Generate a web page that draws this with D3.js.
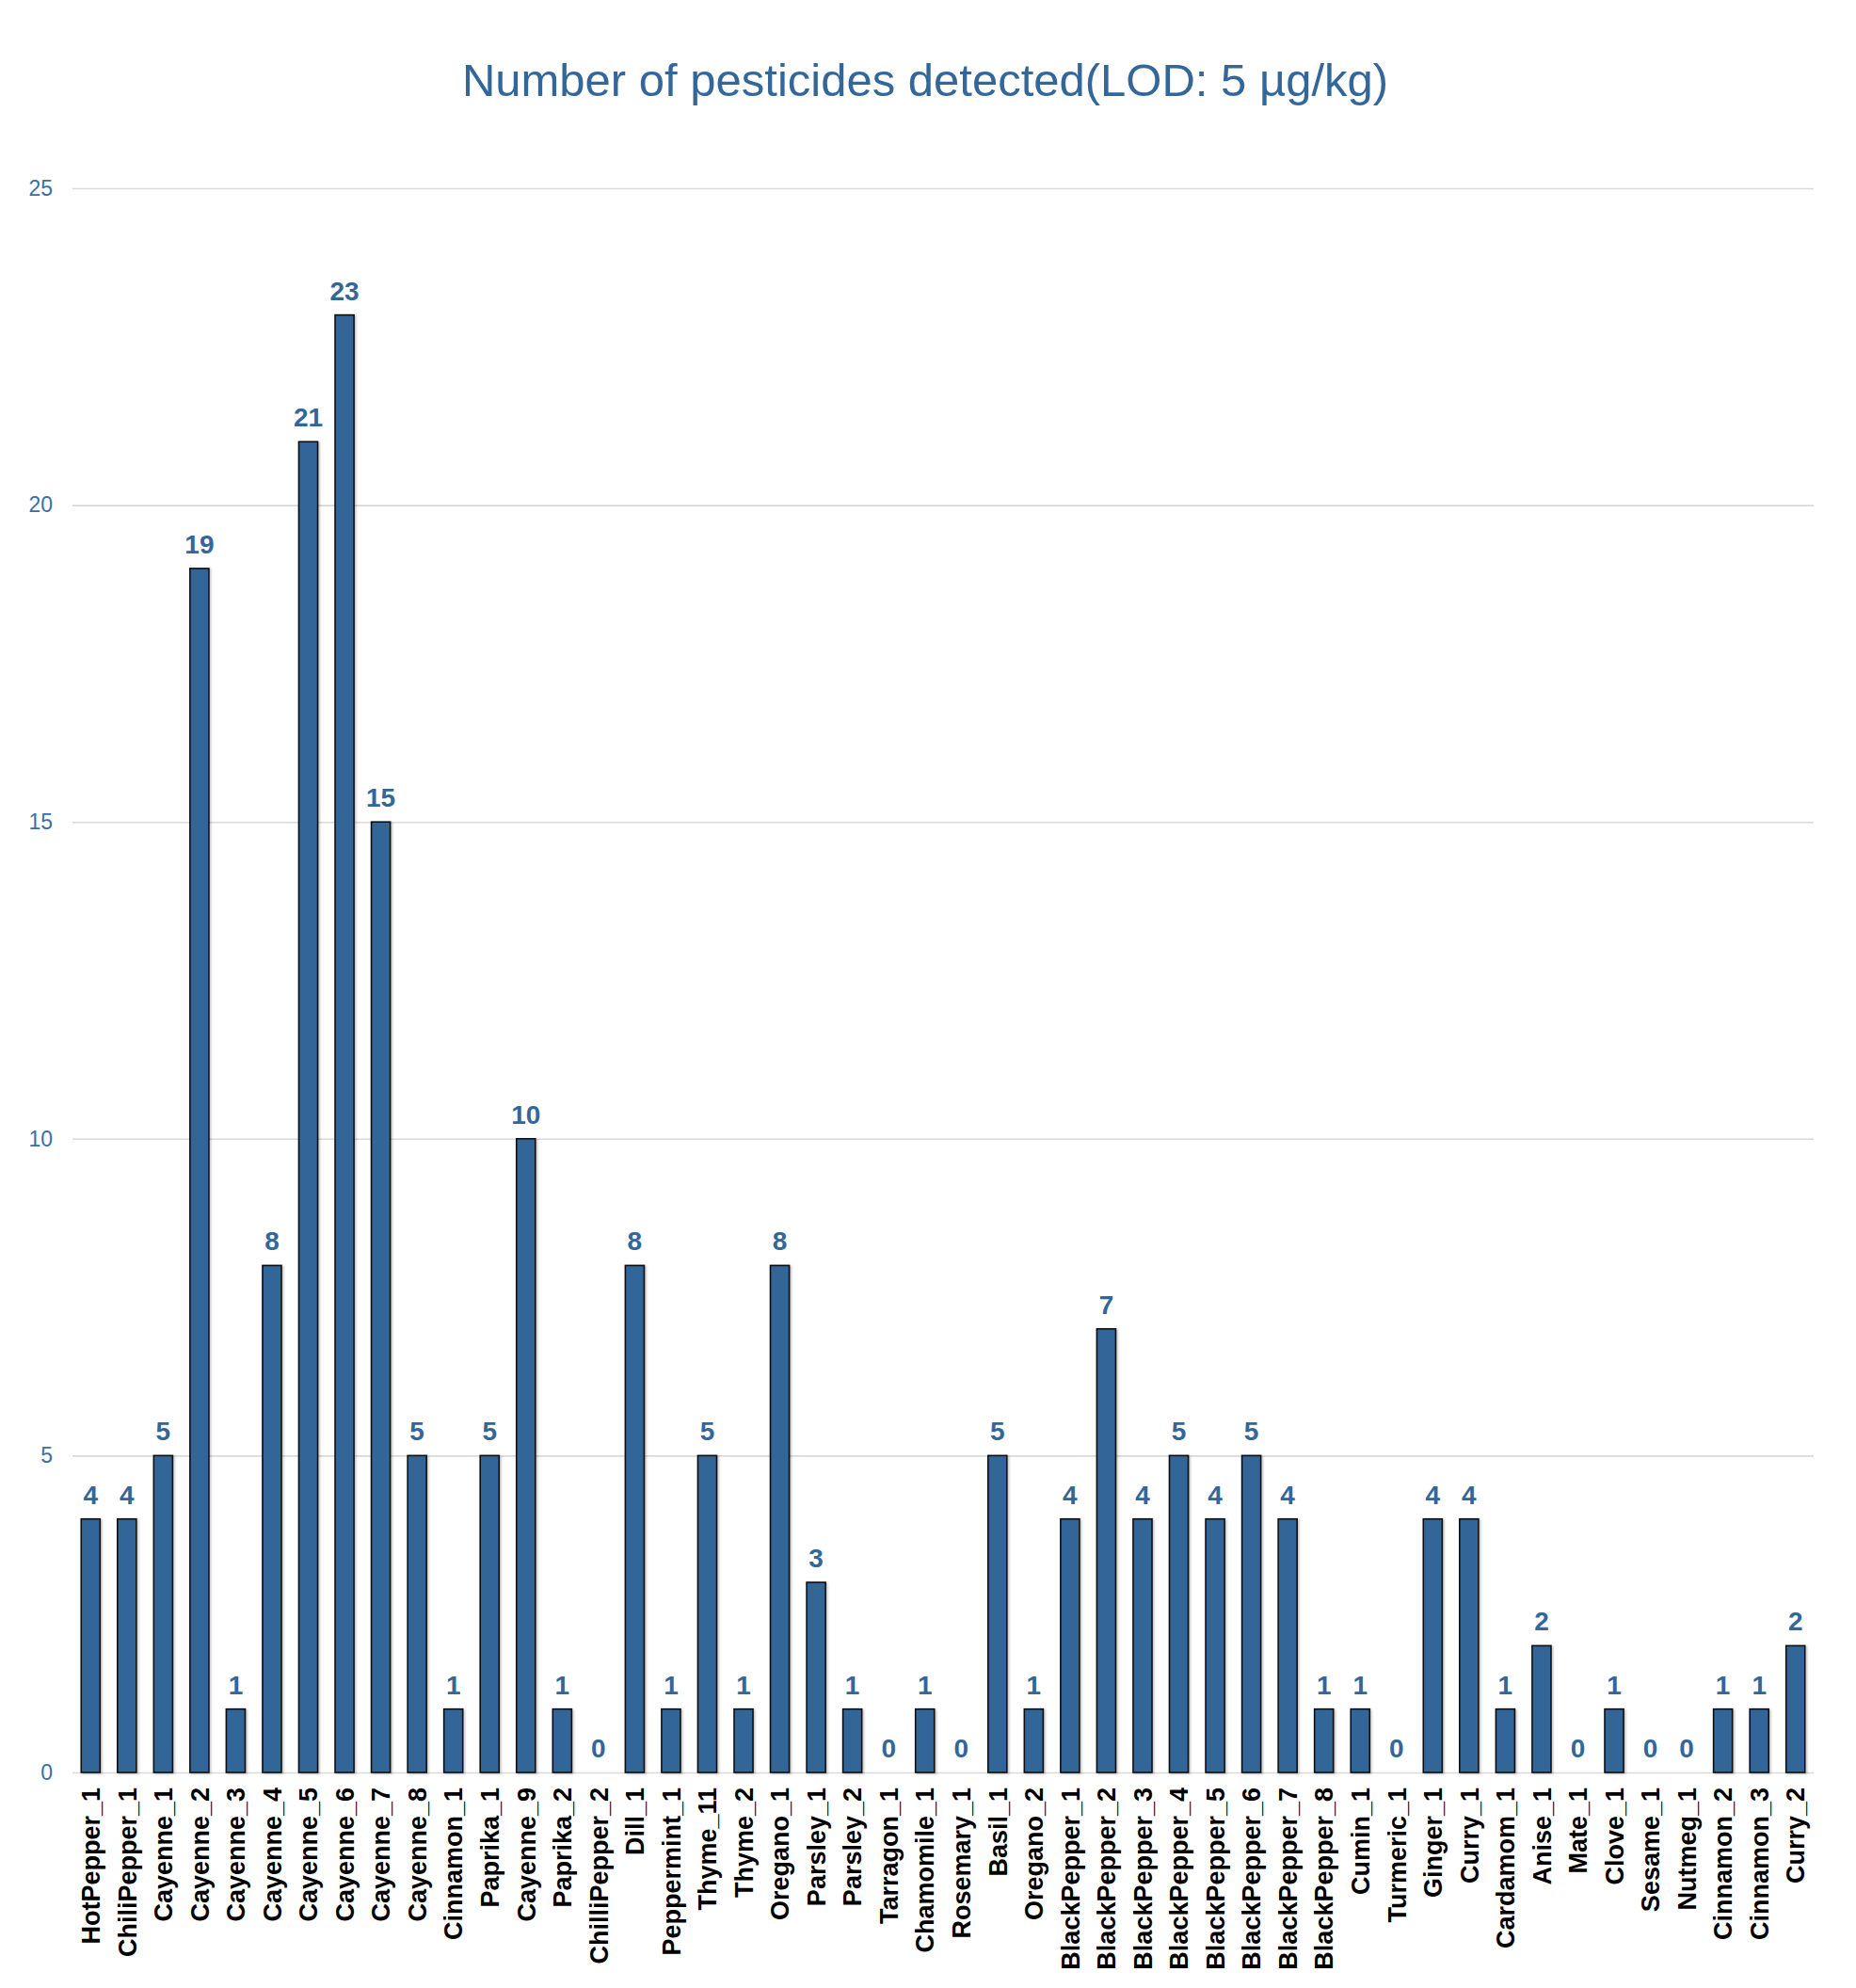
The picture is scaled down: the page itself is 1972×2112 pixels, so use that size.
<!DOCTYPE html>
<html>
<head>
<meta charset="utf-8">
<script src="https://cdn.jsdelivr.net/npm/d3@7"></script>
<style>
  html, body { margin: 0; padding: 0; background: #ffffff; }
  svg { display: block; font-family: "Liberation Sans", Arial, sans-serif; }
</style>
</head>
<body>
<script>
const categories = ["HotPepper_1","ChiliPepper_1","Cayenne_1","Cayenne_2","Cayenne_3","Cayenne_4","Cayenne_5","Cayenne_6","Cayenne_7","Cayenne_8","Cinnamon_1","Paprika_1","Cayenne_9","Paprika_2","ChilliPepper_2","Dill_1","Peppermint_1","Thyme_11","Thyme_2","Oregano_1","Parsley_1","Parsley_2","Tarragon_1","Chamomile_1","Rosemary_1","Basil_1","Oregano_2","BlackPepper_1","BlackPepper_2","BlackPepper_3","BlackPepper_4","BlackPepper_5","BlackPepper_6","BlackPepper_7","BlackPepper_8","Cumin_1","Turmeric_1","Ginger_1","Curry_1","Cardamom_1","Anise_1","Mate_1","Clove_1","Sesame_1","Nutmeg_1","Cinnamon_2","Cinnamon_3","Curry_2"];
const values = [4,4,5,19,1,8,21,23,15,5,1,5,10,1,0,8,1,5,1,8,3,1,0,1,0,5,1,4,7,4,5,4,5,4,1,1,0,4,4,1,2,0,1,0,0,1,1,2];
const yTicks = [0,5,10,15,20,25];
const title = "Number of pesticides detected(LOD: 5 µg/kg)";

const W = 1972, H = 2112;
const plot = { left: 77, right: 1927, top: 200, bottom: 1883 };
const blue = "#336699";

const svg = d3.select("body").append("svg").attr("width", W).attr("height", H);

const defs = svg.append("defs");
const f = defs.append("filter").attr("id", "shadow").attr("x", "-50%").attr("y", "-10%").attr("width", "200%").attr("height", "120%");
f.append("feDropShadow").attr("dx", 1.5).attr("dy", 1).attr("stdDeviation", 1.2).attr("flood-color", "#000").attr("flood-opacity", 0.25);

const x = d3.scaleBand().domain(categories).range([plot.left, plot.right]).paddingInner(0.48).paddingOuter(0.24);
const y = d3.scaleLinear().domain([0, 25]).range([plot.bottom, plot.top]);

// title
svg.append("text").attr("x", 983).attr("y", 102).attr("text-anchor", "middle")
  .attr("font-size", 49).attr("fill", blue).text(title);

// gridlines + y axis
const yAxis = d3.axisLeft(y).tickValues(yTicks).tickSize(plot.left - plot.right).tickPadding(20).tickFormat(d3.format("d"));
const gy = svg.append("g").attr("transform", `translate(${plot.left},0)`).call(yAxis);
gy.select(".domain").remove();
gy.selectAll(".tick line").attr("stroke", "#d9d9d9").attr("stroke-width", 1.6);
gy.selectAll(".tick text").attr("font-size", 23).attr("fill", "#3b6ea5")
  .attr("font-family", "'Liberation Sans', Arial, sans-serif").attr("x", -21);

// bars
svg.append("g").selectAll("rect").data(values).join("rect")
  .attr("x", (d, i) => x(categories[i]))
  .attr("y", d => y(d))
  .attr("width", x.bandwidth())
  .attr("height", d => y(0) - y(d))
  .attr("fill", blue)
  .attr("stroke", "#111")
  .attr("stroke-width", 1.6)
  .attr("filter", "url(#shadow)")
  .style("display", d => d > 0 ? null : "none");

// value labels
svg.append("g").selectAll("text").data(values).join("text")
  .attr("x", (d, i) => x(categories[i]) + x.bandwidth() / 2)
  .attr("y", d => y(d) - 16)
  .attr("text-anchor", "middle")
  .attr("font-size", 28).attr("font-weight", "bold").attr("fill", blue)
  .text(d => d);

// x axis category labels
const xAxis = d3.axisBottom(x).tickSize(0).tickPadding(0);
const gx = svg.append("g").attr("transform", `translate(0,${plot.bottom})`).call(xAxis);
gx.select(".domain").remove();
gx.selectAll(".tick text")
  .attr("font-size", 27).attr("font-weight", "bold").attr("fill", "#000")
  .attr("font-family", "'Liberation Sans', Arial, sans-serif")
  .attr("transform", "rotate(-90)")
  .attr("text-anchor", "end")
  .attr("x", -16).attr("y", 0).attr("dy", "0.36em");
</script>
</body>
</html>
